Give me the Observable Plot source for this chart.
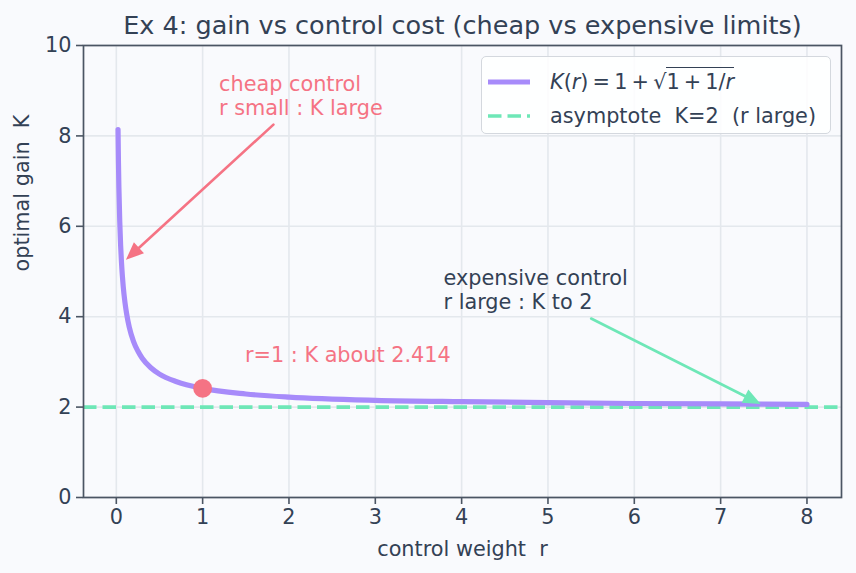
<!DOCTYPE html>
<html>
<head>
<meta charset="utf-8">
<script src="https://cdn.jsdelivr.net/npm/d3@7"></script>
<script src="https://cdn.jsdelivr.net/npm/@observablehq/plot@0.6"></script>
<style>
  html, body { margin: 0; padding: 0; background: #f9fafd; }
  #wrap { position: relative; width: 856px; height: 573px; font-family: "DejaVu Sans", sans-serif; }
  #legend { position: absolute; left: 481px; top: 56px; width: 350px; height: 78px;
    border: 1px solid #d4d8de; border-radius: 5px; background: rgba(255,255,255,0.85);
    box-sizing: border-box; font-size: 20.8px; color: #334155; }
  .row { position: absolute; left: 6px; display: flex; align-items: center; white-space: nowrap; line-height: 1; }
  .row svg { margin-right: 20px; }
  .it { font-style: italic; }
  .ov { border-top: 1.4px solid #334155; padding-top: 2px; }
</style>
</head>
<body>
<div id="wrap"></div>
<script>
const title = "Ex 4: gain vs control cost (cheap vs expensive limits)";
const xLabel = "control weight  r";
const yLabel = "optimal gain  K";
const xTicks = [0, 1, 2, 3, 4, 5, 6, 7, 8];
const yTicks = [0, 2, 4, 6, 8, 10];

// curve K(r)
const rVals = [0.02, 0.025, 0.03, 0.04, 0.05, 0.06, 0.07, 0.08, 0.1, 0.12, 0.15, 0.2, 0.25, 0.3, 0.4, 0.5, 0.7, 1, 1.5, 2, 3, 4, 5, 6, 7, 8];
const kVals = [8.14, 7.40, 6.86, 6.10, 5.58, 5.20, 4.91, 4.67, 4.32, 4.06, 3.77, 3.45, 3.24, 3.08, 2.87, 2.73, 2.56, 2.414, 2.29, 2.22, 2.15, 2.12, 2.10, 2.08, 2.07, 2.06];

const asymptote = [2];
const markR = [1];
const markK = [2.414];

const noteText = ["cheap control\nr small : K large", "expensive control\nr large : K to 2"];
const noteX = [1.19, 3.79];
const noteY = [8.9, 4.6];
const noteColor = ["#f57384", "#334155"];

const midText = ["r=1 : K about 2.414"];
const midX = [1.49];
const midY = [3.14];

const arrowX1 = [1.82, 5.5];
const arrowY1 = [8.25, 3.96];
const arrowX2 = [0.14, 7.43];
const arrowY2 = [5.31, 2.10];
const arrowColor = ["#f57384", "#6ee7b7"];

const purple = "#a78bfa";
const green = "#6ee7b7";
const rose = "#f57384";
const ink = "#334155";

const W = 856, H = 573, ML = 83, MR = 15, MT = 45, MB = 76;
const xDom = [-0.38, 8.4], yDom = [0, 10];

const curve = rVals.map((r, i) => ({r, k: kVals[i]}));
const notes = noteText.map((t, i) => ({t, x: noteX[i], y: noteY[i], c: noteColor[i]}));

// filled-head arrow shape for Plot.vector
const headShape = {
  draw(ctx, l) {
    const h = 13, w = 5.5;
    ctx.moveTo(0, 0);
    ctx.lineTo(0, -l + h);
    ctx.moveTo(0, -l);
    ctx.lineTo(-w, -l + h);
    ctx.lineTo(w, -l + h);
    ctx.closePath();
  }
};
const pxX = (W - ML - MR) / (xDom[1] - xDom[0]);
const pxY = (H - MT - MB) / (yDom[1] - yDom[0]);
const arrowMarks = arrowX1.map((x1, i) => {
  const dxs = (arrowX2[i] - x1) * pxX;
  const dys = -(arrowY2[i] - arrowY1[i]) * pxY;
  const len = Math.hypot(dxs, dys);
  const ang = Math.atan2(dxs, -dys) * 180 / Math.PI;
  return Plot.vector([0], {x: () => arrowX2[i], y: () => arrowY2[i], length: len, rotate: ang,
    anchor: "end", shape: headShape, stroke: arrowColor[i], fill: arrowColor[i], strokeWidth: 2.6, strokeLinejoin: "miter"});
});

const chart = Plot.plot({
  width: W, height: H,
  marginLeft: ML, marginRight: MR, marginTop: MT, marginBottom: MB,
  style: {fontFamily: "DejaVu Sans, sans-serif", background: "#f9fafd", color: ink, overflow: "visible"},
  x: {domain: xDom},
  y: {domain: yDom},
  marks: [
    Plot.gridX(xTicks, {stroke: "#e4e8ed", strokeOpacity: 1, strokeWidth: 1.6}),
    Plot.gridY(yTicks, {stroke: "#e4e8ed", strokeOpacity: 1, strokeWidth: 1.6}),
    Plot.ruleY(asymptote, {stroke: green, strokeWidth: 3.6, strokeDasharray: "13.5,6"}),
    Plot.line(curve, {x: "r", y: "k", stroke: purple, strokeWidth: 5.2, curve: "monotone-x"}),
    Plot.dot(markR.map((r, i) => ({r, k: markK[i]})), {x: "r", y: "k", r: 9.4, fill: rose}),
    ...arrowMarks,
    Plot.text(notes, {x: "x", y: "y", text: "t", fill: "c", fontSize: 20.8, textAnchor: "start", lineAnchor: "middle", lineHeight: 1.15}),
    Plot.text(midText, {x: midX, y: midY, text: d => d, fill: rose, fontSize: 20.8, textAnchor: "start", lineAnchor: "middle"}),
    Plot.frame({stroke: "#4b5563", strokeWidth: 1.7}),
    Plot.axisX(xTicks, {tickSize: 7, tickPadding: 5, fontSize: 20.8, fill: ink, stroke: "#4b5563", strokeWidth: 1.6, label: null}),
    Plot.axisY(yTicks, {tickSize: 7, tickPadding: 5, fontSize: 20.8, fill: ink, stroke: "#4b5563", strokeWidth: 1.6, label: null}),
    Plot.text([title], {frameAnchor: "top", dy: -20, fontSize: 25.5, fill: ink, lineAnchor: "middle"}),
    Plot.text([xLabel], {frameAnchor: "bottom", dy: 52, fontSize: 20.8, fill: ink, lineAnchor: "middle"}),
    Plot.text([yLabel], {frameAnchor: "left", dx: -61, rotate: -90, fontSize: 20.8, fill: ink, lineAnchor: "middle"})
  ]
});

const wrap = document.getElementById("wrap");
wrap.appendChild(chart);

const legend = document.createElement("div");
legend.id = "legend";
legend.innerHTML = `
  <div class="row" style="top:15px">
    <svg width="42" height="10"><line x1="0" x2="42" y1="5" y2="5" stroke="${purple}" stroke-width="5.2"/></svg>
    <span><span class="it">K</span>(<span class="it">r</span>)&thinsp;=&thinsp;1&thinsp;+&thinsp;√<span class="ov">1&thinsp;+&thinsp;1/<span class="it">r</span></span></span>
  </div>
  <div class="row" style="top:49px">
    <svg width="42" height="10"><line x1="0" x2="42" y1="5" y2="5" stroke="${green}" stroke-width="3.6" stroke-dasharray="13.5,6"/></svg>
    <span style="white-space:pre">asymptote  K=2  (r large)</span>
  </div>`;
wrap.appendChild(legend);
</script>
</body>
</html>
